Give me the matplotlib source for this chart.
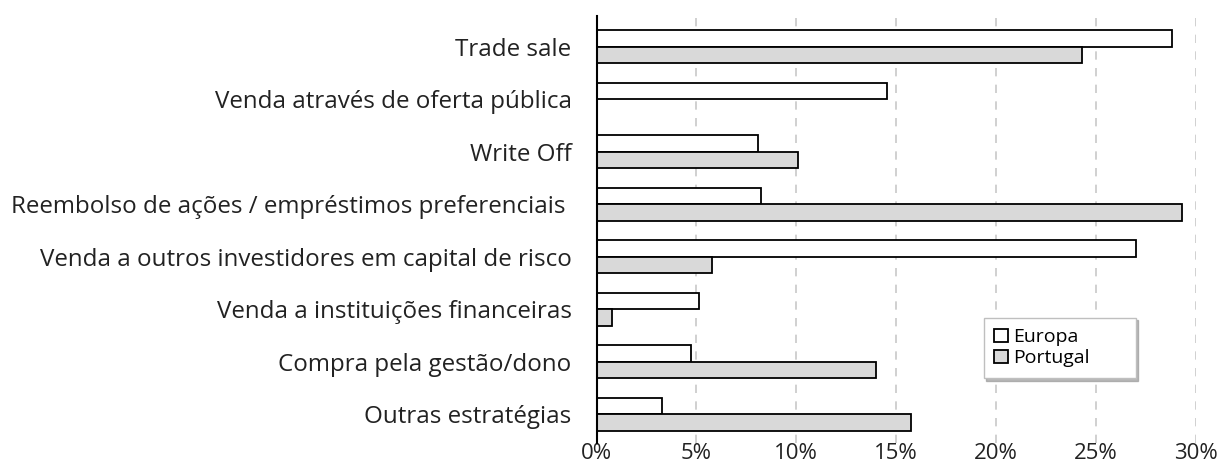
import matplotlib
matplotlib.use('Agg')
import matplotlib.pyplot as plt
import numpy as np

plt.rcParams['font.family'] = ['Open Sans', 'DejaVu Sans']

categories = ['Trade sale',
              'Venda através de oferta pública',
              'Write Off',
              'Reembolso de ações / empréstimos preferenciais ',
              'Venda a outros investidores em capital de risco',
              'Venda a instituições financeiras',
              'Compra pela gestão/dono',
              'Outras estratégias']
europa = [28.8, 14.55, 8.1, 8.25, 27.0, 5.15, 4.75, 3.3]
portugal = [24.3, 0.0, 10.1, 29.3, 5.8, 0.75, 14.0, 15.75]
xticks = [0, 5, 10, 15, 20, 25, 30]

fig = plt.figure(figsize=(12.2, 4.68), dpi=100)
ax = fig.add_axes([0.489, 0.053, 0.491, 0.913])

y = np.arange(len(categories))
h = 0.313
ax.barh(y - h / 2, europa, height=h, color='white', edgecolor='black',
        linewidth=1.3, label='Europa', zorder=3)
ax.barh(y + h / 2, portugal, height=h, color='#d9d9d9', edgecolor='black',
        linewidth=1.3, label='Portugal', zorder=3)

ax.set_ylim(7.55, -0.59)
ax.set_xlim(0, 30)
ax.set_yticks(y)
ax.set_yticklabels(categories, fontsize=17.4, color='#222222')
ax.set_xticks(xticks)
ax.set_xticklabels([f'{v}%' for v in xticks], fontsize=16, color='#222222')
ax.tick_params(axis='y', length=0, pad=18)
ax.tick_params(axis='x', length=0, pad=0)
ax.xaxis.grid(True, linestyle=(0, (5, 5)), color='#c8c8c8', linewidth=1.2, zorder=0)
for s in ['top', 'right', 'bottom']:
    ax.spines[s].set_visible(False)
ax.spines['left'].set_linewidth(1.5)
ax.spines['left'].set_zorder(4)

leg = ax.legend(loc='upper left', bbox_to_anchor=(0.646, 0.144, 0.254, 0.15),
                mode='expand', alignment='center', fontsize=14,
                frameon=True, fancybox=False,
                shadow={'color': '#9a9a9a', 'alpha': 0.7},
                handlelength=0.7, handleheight=0.7, handletextpad=0.25,
                borderpad=0.55, labelspacing=0.15, borderaxespad=0)
leg.get_frame().set_edgecolor('#bfbfbf')
leg.get_frame().set_linewidth(1.0)

plt.savefig('out.png', dpi=100)
